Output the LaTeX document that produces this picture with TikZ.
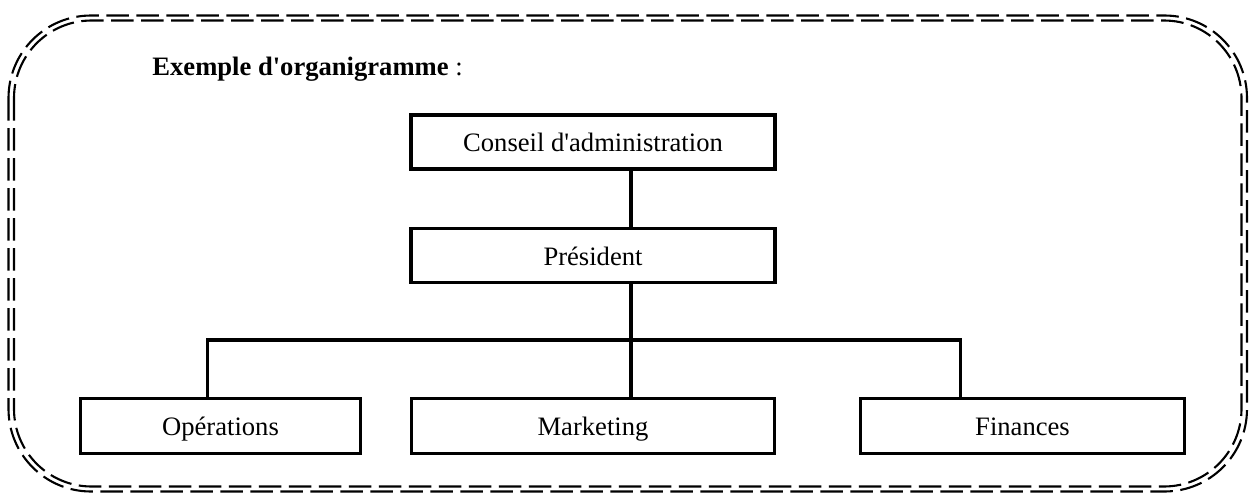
\documentclass[tikz,border=0pt]{standalone}
\usepackage{fontspec}
\setmainfont{Liberation Serif}
\usetikzlibrary{positioning}
\tikzset{
    block/.style = {draw, rectangle, line width=1.9pt,
        minimum height=27pt, inner sep=0pt, text height=0.98em, text depth=0pt, align=center},
    link/.style = {draw, line width=1.6pt},
    dashframe/.style = {draw, line width=1.05pt,
        dash pattern=on 11.25pt off 3.75pt}
}

\begin{document}
\begin{tikzpicture}[x=0.5pt, y=-0.5pt, node distance=2cm,
    every node/.style={font=\fontsize{13.3}{16}\selectfont}]
    \useasboundingbox (0,0) rectangle (1249,493);
        % double dashed frame, drawn as two lines
        \draw [dashframe, rounded corners=41.25pt] (8.5,15.5) rectangle (1247,491.5);
        \draw [dashframe, rounded corners=38.75pt] (14,20.5) rectangle (1241.5,486.5);
        \node [anchor=base west, inner sep=0pt, name=title] at (152,75) {\textbf{Exemple d\textquotesingle organigramme} :};
        \node [block, minimum width=182pt, name=cons] at (593,142) {Conseil d\textquotesingle administration};
        \node [block, minimum width=182pt, below of=cons, node distance=56.75pt, name=pres] {Président};
        \node [block, minimum width=181.5pt, minimum height=27.5pt, below of=pres, node distance=85.25pt, name=mkt] {Marketing};
        \node [block, minimum width=140pt, minimum height=27.5pt, left of=mkt, node distance=186.25pt, name=ops] {Opérations};
        \node [block, minimum width=162pt, minimum height=27.5pt, right of=mkt, node distance=214.75pt, name=fin] {Finances};
        \coordinate (bar) at (631,340);
        \draw [link] (bar |- cons.south) -- (bar |- pres.north);
        \draw [link] (bar |- pres.south) -- (bar |- mkt.north);
        \draw [link] ([xshift=-6.5pt]ops.north) |- (bar) -| ([xshift=-31pt]fin.north);
\end{tikzpicture}
\end{document}
